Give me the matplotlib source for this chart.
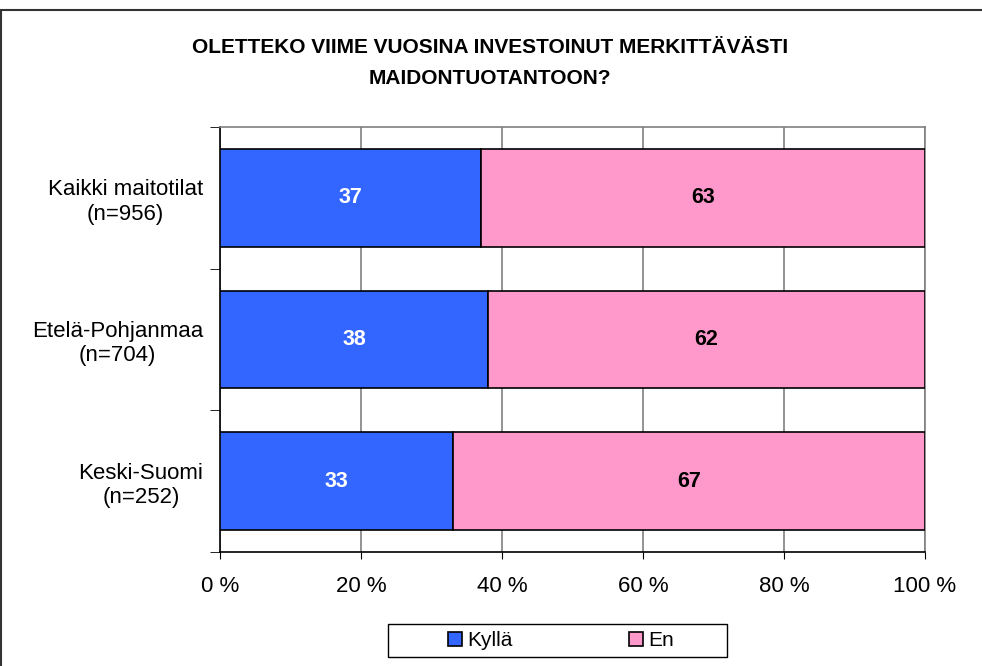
import matplotlib
matplotlib.use("Agg")
import matplotlib.pyplot as plt
from matplotlib.patches import Rectangle

categories = ["Kaikki maitotilat\n(n=956)", "Etelä-Pohjanmaa\n(n=704)", "Keski-Suomi\n(n=252)"]
kylla = [37, 38, 33]
en = [63, 62, 67]
series_names = ["Kyllä", "En"]
xticks = [0, 20, 40, 60, 80, 100]

blue = "#3366FF"
pink = "#FF99CC"

plt.rcParams["font.family"] = ["Liberation Sans", "DejaVu Sans"]

fig = plt.figure(figsize=(9.82, 6.66), dpi=100)
ax = fig.add_axes([220 / 982, 1 - 552 / 666, 705 / 982, 425 / 666])

# outer frame of the chart area
fig.patches.append(Rectangle((1 / 982, -0.1), 1.1, 1 - 10 / 666 + 0.1, transform=fig.transFigure,
                             fill=False, edgecolor="#333333", linewidth=1.5, clip_on=False))
# legend box
fig.patches.append(Rectangle((388 / 982, 1 - 657 / 666), 339 / 982, 33 / 666, transform=fig.transFigure,
                             fill=False, edgecolor="black", linewidth=1.0))

ypos = [2, 1, 0]
h = 0.69
ax.barh(ypos, kylla, height=h, color=blue, edgecolor="black", linewidth=1.2, label=series_names[0], zorder=3)
ax.barh(ypos, en, left=kylla, height=h, color=pink, edgecolor="black", linewidth=1.2, label=series_names[1], zorder=3)

for y, a, b in zip(ypos, kylla, en):
    ax.text(a / 2, y, str(a), ha="center", va="center", color="white", fontsize=15.5, fontweight="bold", zorder=4)
    ax.text(a + b / 2, y, str(b), ha="center", va="center", color="black", fontsize=15.5, fontweight="bold", zorder=4)

ax.set_xlim(0, 100)
ax.set_ylim(-0.5, 2.5)
ax.set_xticks(xticks)
ax.set_xticklabels([f"{v} %" for v in xticks], fontsize=16)
ax.tick_params(axis="x", length=5, pad=12, color="black")
ax.set_yticks(ypos)
ax.set_yticklabels(categories, fontsize=16, multialignment="center")
ax.tick_params(axis="y", length=0, pad=12)
ax.set_yticks([-0.5, 0.5, 1.5, 2.5], minor=True)
ax.tick_params(axis="y", which="minor", length=7, color="black")

ax.grid(axis="x", color="#808080", linewidth=1.2, zorder=0)
ax.spines["top"].set_color("#808080")
ax.spines["right"].set_color("#808080")
ax.spines["left"].set_color("black")
ax.spines["bottom"].set_color("black")
for s in ax.spines.values():
    s.set_linewidth(1.2)

fig.text(490 / 982, 1 - 63 / 666, "OLETTEKO VIIME VUOSINA INVESTOINUT MERKITTÄVÄSTI\nMAIDONTUOTANTOON?",
         ha="center", va="center", fontsize=15, fontweight="bold", linespacing=1.75)

leg = fig.legend(loc="center", bbox_to_anchor=(561 / 982, 1 - 641 / 666), ncol=2, frameon=False,
                 fontsize=15, handlelength=0.65, handleheight=0.65,
                 handletextpad=0.25, columnspacing=5.6, borderpad=0.0)

fig.savefig("out.png", dpi=100)
